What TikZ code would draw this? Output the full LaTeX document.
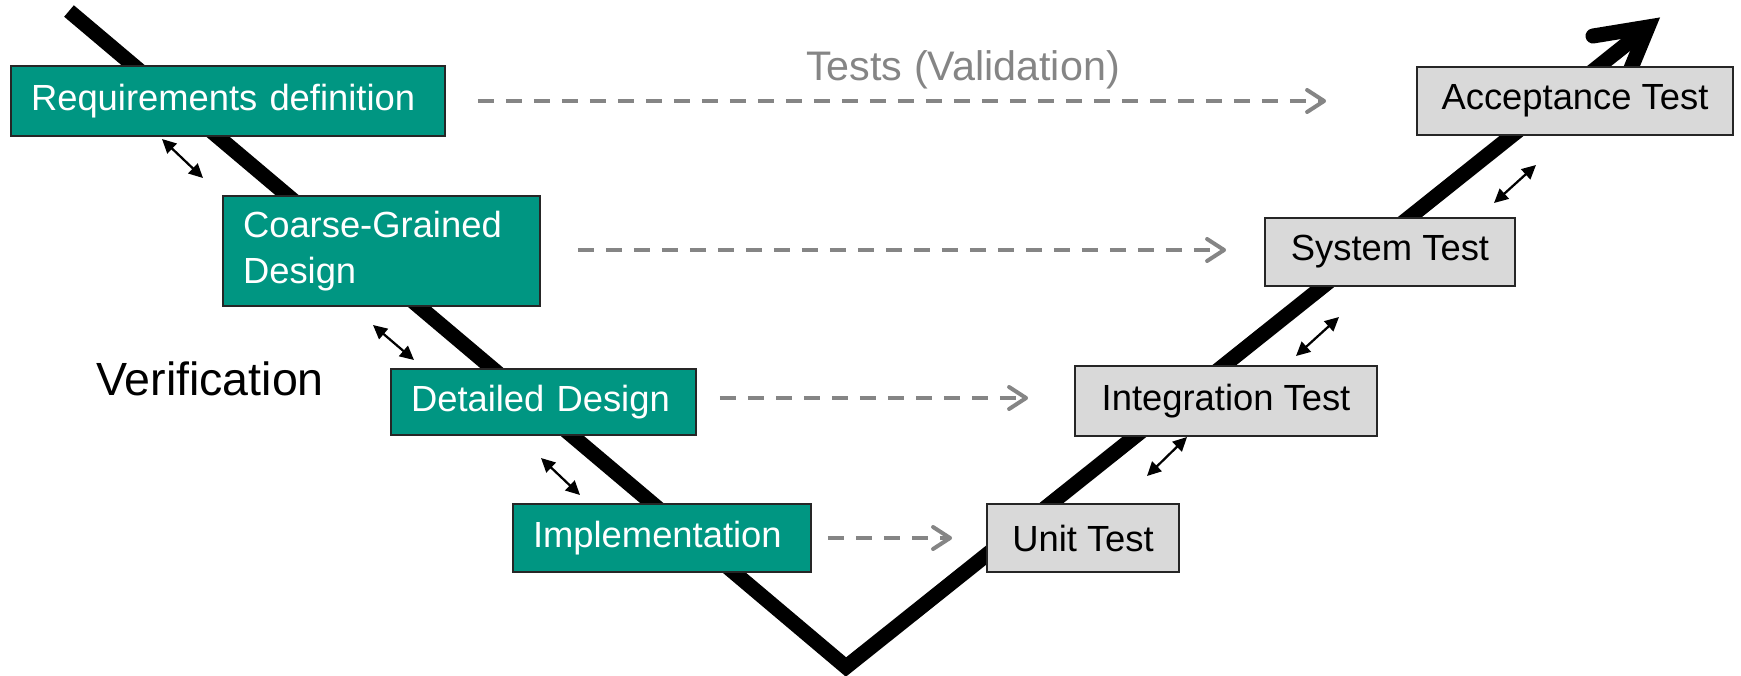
\documentclass[tikz,border=0pt]{standalone}
\usepackage{fontspec}
\setmainfont{Liberation Sans}
\usetikzlibrary{arrows.meta}

\definecolor{specteal}{RGB}{0,150,130}
\definecolor{testgray}{RGB}{217,217,217}
\definecolor{validgray}{RGB}{133,133,133}

\begin{document}
\begin{tikzpicture}[x=0.02cm, y=-0.02cm, every node/.style={font=\fontsize{20.7}{25.8}\selectfont}]
  % -----------------------------
  % STYLES
  % -----------------------------
  \tikzset{
    spec/.style={draw=black!85, line width=1.1pt, fill=specteal, text=white,
      align=left, inner xsep=0.4cm, inner ysep=0pt},
    testbox/.style={draw=black!85, line width=1.1pt, fill=testgray, inner sep=0pt},
    vline/.style={line width=0.3cm},
    vhead/.style={line width=0.3cm, line cap=round, line join=miter},
    valid/.style={validgray, line width=0.08cm, dash pattern=on 0.32cm off 0.24cm,
      -{Straight Barb[length=0.34cm,width=0.44cm,round]}},
    verif/.style={line width=0.045cm,
      {Triangle[length=0.28cm,width=0.27cm]}-{Triangle[length=0.28cm,width=0.27cm]}},
  }

  \useasboundingbox (0,0) rectangle (1741,676);

  % -----------------------------
  % THE V (with its arrow head)
  % -----------------------------
  \coordinate (vtop) at (69,11);
  \coordinate (vbot) at (846,667);
  \coordinate (vjoin) at (1648,27);
  \coordinate (vbarbL) at (1593,36);
  \coordinate (vbarbR) at (1627,78);
  \draw[vline] (vtop) -- (vbot) -- (vjoin);
  \draw[vhead] (vbarbL) -- (vjoin) -- (vbarbR);

  % -----------------------------
  % LEFT: SPECIFICATION
  % -----------------------------
  \node[spec, text width=7.88cm, minimum height=1.4cm] (req) at (228,101) {Requirements definition};
  \node[spec, text width=5.54cm, minimum height=2.2cm] (coarse) at (381.5,251) {Coarse-Grained\\Design};
  \node[spec, text width=5.3cm, minimum height=1.32cm] (detail) at (543.5,402) {Detailed Design};
  \node[spec, text width=5.16cm, minimum height=1.36cm] (impl) at (662,538) {Implementation};

  % -----------------------------
  % RIGHT: TESTS
  % -----------------------------
  \node[testbox, minimum width=3.84cm, minimum height=1.36cm] (unit) at (1083,538) {Unit Test};
  \node[testbox, minimum width=6.04cm, minimum height=1.4cm] (integ) at (1226,401) {Integration Test};
  \node[testbox, minimum width=5.0cm, minimum height=1.36cm] (sys) at (1390,252) {System Test};
  \node[testbox, minimum width=6.32cm, minimum height=1.36cm] (accept) at (1575,101) {Acceptance Test};

  % labels
  \node[font=\fontsize{26.5}{30}\selectfont] (verlab) at (210,379) {Verification};
  \node[font=\fontsize{23.5}{28}\selectfont, text=validgray] (vallab) at (963,70) {Tests (Validation)};

  % -----------------------------
  % VALIDATION (dashed)
  % -----------------------------
  \draw[valid, shorten <=0.64cm, shorten >=1.8cm] (req.east) -- (req.east -| accept.west);
  \draw[valid, shorten <=0.74cm, shorten >=0.76cm] ([yshift=0.02cm]coarse.east) -- ([yshift=0.02cm]coarse.east -| sys.west);
  \draw[valid, shorten <=0.46cm, shorten >=0.92cm] ([yshift=0.08cm]detail.east) -- ([yshift=0.08cm]detail.east -| integ.west);
  \draw[valid, shorten <=0.32cm, shorten >=0.68cm] (impl.east) -- (impl.east -| unit.west);

  % -----------------------------
  % VERIFICATION (small arrows)
  % -----------------------------
  \foreach \n/\ax/\ay/\bx/\by in {1/162/139/203/178, 2/373/325/414/360, 3/541/458/580/495,
      4/1147/476/1187/437, 5/1296/356/1339/317, 6/1494/203/1536/165} {
    \coordinate (va\n) at (\ax,\ay);
    \coordinate (vb\n) at (\bx,\by);
    \draw[verif] (va\n) -- (vb\n);
  }
\end{tikzpicture}
\end{document}
